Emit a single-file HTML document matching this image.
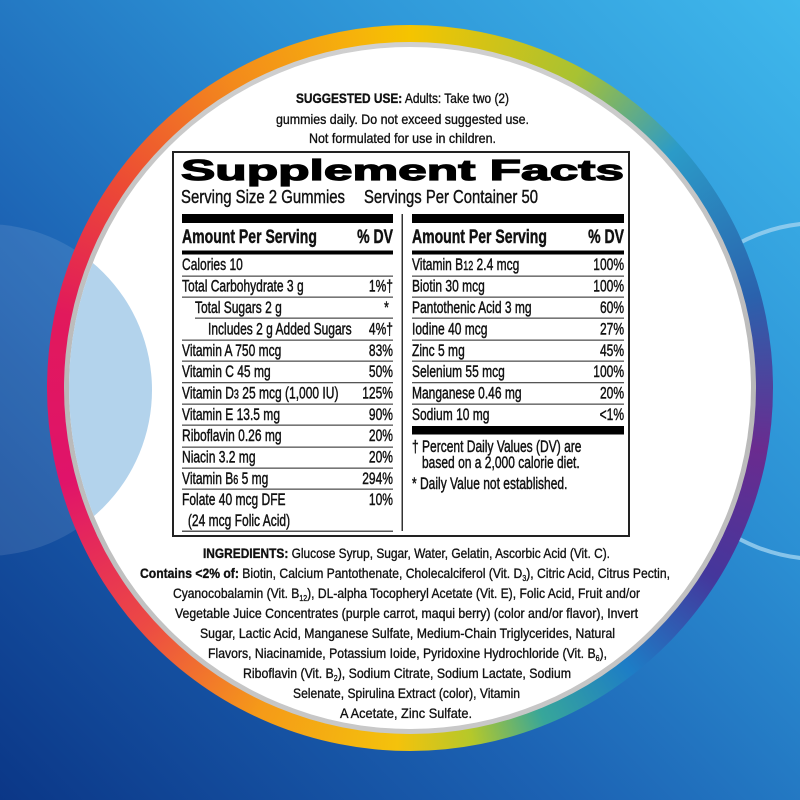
<!DOCTYPE html>
<html><head><meta charset="utf-8"><style>
html,body{margin:0;padding:0;}
body{width:800px;height:800px;position:relative;overflow:hidden;
background:linear-gradient(225deg,#3fb8ec 0%,#2b8fd3 35%,#1c62b3 65%,#0b3787 100%);font-family:"Liberation Sans",sans-serif;}
.abs{position:absolute;}
#ring{left:47px;top:25px;width:726px;height:726px;border-radius:50%;
background:conic-gradient(from 0deg,#f5c400 0deg,#a8c232 28deg,#2b9bc8 48deg,#2a62ad 75deg,#6a2b8f 100deg,#44379c 122deg,#1d7dc6 142deg,#37a69a 158deg,#b5c82a 170deg,#f4c20c 182deg,#f59a18 205deg,#ec4a44 228deg,#e0136a 255deg,#e1195c 282deg,#ec4a35 305deg,#f38a1c 330deg,#f6b40a 352deg,#f5c400 360deg);}
#gray{left:64px;top:42px;width:692px;height:692px;border-radius:50%;background:linear-gradient(180deg,#d0d0d0,#b8b8b8 50%,#c8c8c8);}
#white{left:69px;top:47px;width:682px;height:682px;border-radius:50%;background:#fff;overflow:hidden;}
#pale{left:-249px;top:177px;width:332px;height:332px;border-radius:50%;background:#b3d3ec;}
svg{position:absolute;left:0;top:0;}
</style></head><body>
<div class="abs" style="left:-180px;top:224px;width:332px;height:332px;border-radius:50%;background:rgba(255,255,255,0.10)"></div>
<svg width="800" height="800"><circle cx="819" cy="391" r="168" fill="none" stroke="#9fd2f0" stroke-width="4" opacity="0.8"/></svg>
<div id="ring" class="abs"></div>
<div id="gray" class="abs"></div>
<div id="white" class="abs"><div id="pale" class="abs"></div></div>
<svg width="800" height="800" font-family="'Liberation Sans',sans-serif" fill="#111">
<g stroke="#111" stroke-width="0.35">
<text x="296" y="103" font-size="14" textLength="213" lengthAdjust="spacingAndGlyphs"><tspan font-weight="bold">SUGGESTED USE:</tspan> Adults: Take two (2)</text>
<text x="276" y="124" font-size="14" textLength="253" lengthAdjust="spacingAndGlyphs">gummies daily. Do not exceed suggested use.</text>
<text x="309" y="143" font-size="14" textLength="187" lengthAdjust="spacingAndGlyphs">Not formulated for use in children.</text>
</g>
<rect x="173" y="152" width="456" height="384" fill="none" stroke="#222" stroke-width="2"/>
<text x="181" y="180" font-size="29" font-weight="900" stroke="#000" stroke-width="1.2" fill="#000" textLength="443" lengthAdjust="spacingAndGlyphs">Supplement Facts</text>
<g stroke="#111" stroke-width="0.4">
<text x="181" y="203" font-size="18" textLength="164" lengthAdjust="spacingAndGlyphs">Serving Size 2 Gummies</text>
<text x="364" y="203" font-size="18" textLength="174" lengthAdjust="spacingAndGlyphs">Servings Per Container 50</text>
</g>
<rect x="182" y="214" width="211" height="9" fill="#000"/>
<rect x="412" y="214" width="212" height="9" fill="#000"/>
<rect x="182" y="250.5" width="211" height="4" fill="#000"/>
<rect x="412" y="250.5" width="212" height="4" fill="#000"/>
<rect x="401.5" y="214" width="1.5" height="317" fill="#333"/>
<rect x="412" y="426" width="212" height="8.5" fill="#000"/>
<g fill="#555">
<rect x="182" y="275.5" width="211" height="1.3"/><rect x="182" y="296.5" width="211" height="1.3"/>
<rect x="195" y="317.5" width="198" height="1.3"/><rect x="182" y="339.5" width="211" height="1.3"/>
<rect x="182" y="360.5" width="211" height="1.3"/><rect x="182" y="382" width="211" height="1.3"/>
<rect x="182" y="403.5" width="211" height="1.3"/><rect x="182" y="424.5" width="211" height="1.3"/>
<rect x="182" y="446.5" width="211" height="1.3"/><rect x="182" y="467.5" width="211" height="1.3"/>
<rect x="182" y="488.5" width="211" height="1.3"/><rect x="182" y="530.5" width="211" height="1.5"/>
<rect x="412" y="275.5" width="212" height="1.3"/><rect x="412" y="296.5" width="212" height="1.3"/>
<rect x="412" y="317.5" width="212" height="1.3"/><rect x="412" y="339.5" width="212" height="1.3"/>
<rect x="412" y="360.5" width="212" height="1.3"/><rect x="412" y="382" width="212" height="1.3"/>
<rect x="412" y="403.5" width="212" height="1.3"/>
</g>
<g transform="scale(0.72 1)" font-size="16.7" stroke="#111" stroke-width="0.45">
<text x="252.8" y="243" font-size="19.5" font-weight="bold">Amount Per Serving</text>
<text x="545.8" y="243" font-size="19.5" font-weight="bold" text-anchor="end">% DV</text>
<text x="572.2" y="243" font-size="19.5" font-weight="bold">Amount Per Serving</text>
<text x="866.7" y="243" font-size="19.5" font-weight="bold" text-anchor="end">% DV</text>
<text x="252.8" y="270">Calories 10</text>
<text x="252.8" y="291.5">Total Carbohydrate 3 g</text><text x="545.8" y="291.5" text-anchor="end">1%†</text>
<text x="270.8" y="313">Total Sugars 2 g</text><text x="540" y="313" text-anchor="end">*</text>
<text x="288.9" y="334.5">Includes 2 g Added Sugars</text><text x="545.8" y="334.5" text-anchor="end">4%†</text>
<text x="252.8" y="356">Vitamin A 750 mcg</text><text x="545.8" y="356" text-anchor="end">83%</text>
<text x="252.8" y="377">Vitamin C 45 mg</text><text x="545.8" y="377" text-anchor="end">50%</text>
<text x="252.8" y="398.5">Vitamin D<tspan font-size="12.5">3</tspan> 25 mcg (1,000 IU)</text><text x="545.8" y="398.5" text-anchor="end">125%</text>
<text x="252.8" y="420">Vitamin E 13.5 mg</text><text x="545.8" y="420" text-anchor="end">90%</text>
<text x="252.8" y="441">Riboflavin 0.26 mg</text><text x="545.8" y="441" text-anchor="end">20%</text>
<text x="252.8" y="462.5">Niacin 3.2 mg</text><text x="545.8" y="462.5" text-anchor="end">20%</text>
<text x="252.8" y="484">Vitamin B<tspan font-size="12.5">6</tspan> 5 mg</text><text x="545.8" y="484" text-anchor="end">294%</text>
<text x="252.8" y="505">Folate 40 mcg DFE</text><text x="545.8" y="505" text-anchor="end">10%</text>
<text x="261" y="526">(24 mcg Folic Acid)</text>
<text x="572.2" y="270">Vitamin B<tspan font-size="12.5">12</tspan> 2.4 mcg</text><text x="866.7" y="270" text-anchor="end">100%</text>
<text x="572.2" y="291.5">Biotin 30 mcg</text><text x="866.7" y="291.5" text-anchor="end">100%</text>
<text x="572.2" y="313">Pantothenic Acid 3 mg</text><text x="866.7" y="313" text-anchor="end">60%</text>
<text x="572.2" y="334.5">Iodine 40 mcg</text><text x="866.7" y="334.5" text-anchor="end">27%</text>
<text x="572.2" y="356">Zinc 5 mg</text><text x="866.7" y="356" text-anchor="end">45%</text>
<text x="572.2" y="377">Selenium 55 mcg</text><text x="866.7" y="377" text-anchor="end">100%</text>
<text x="572.2" y="398.5">Manganese 0.46 mg</text><text x="866.7" y="398.5" text-anchor="end">20%</text>
<text x="572.2" y="420">Sodium 10 mg</text><text x="866.7" y="420" text-anchor="end">&lt;1%</text>
<text x="572.2" y="452">† Percent Daily Values (DV) are</text>
<text x="586.1" y="468">based on a 2,000 calorie diet.</text>
<text x="572.2" y="489">* Daily Value not established.</text>
</g>
<g font-size="14" stroke="#111" stroke-width="0.35">
<text x="203" y="558" textLength="407" lengthAdjust="spacingAndGlyphs"><tspan font-weight="bold">INGREDIENTS:</tspan> Glucose Syrup, Sugar, Water, Gelatin, Ascorbic Acid (Vit. C).</text>
<text x="140" y="578" textLength="530" lengthAdjust="spacingAndGlyphs"><tspan font-weight="bold">Contains &lt;2% of:</tspan> Biotin, Calcium Pantothenate, Cholecalciferol (Vit. D<tspan font-size="8" dy="3">3</tspan><tspan dy="-3">), Citric Acid, Citrus Pectin,</tspan></text>
<text x="173" y="598" textLength="467" lengthAdjust="spacingAndGlyphs">Cyanocobalamin (Vit. B<tspan font-size="8" dy="3">12</tspan><tspan dy="-3">), DL-alpha Tocopheryl Acetate (Vit. E), Folic Acid, Fruit and/or</tspan></text>
<text x="175" y="618" textLength="463" lengthAdjust="spacingAndGlyphs">Vegetable Juice Concentrates (purple carrot, maqui berry) (color and/or flavor), Invert</text>
<text x="200" y="638" textLength="415" lengthAdjust="spacingAndGlyphs">Sugar, Lactic Acid, Manganese Sulfate, Medium-Chain Triglycerides, Natural</text>
<text x="208" y="658" textLength="399" lengthAdjust="spacingAndGlyphs">Flavors, Niacinamide, Potassium Ioide, Pyridoxine Hydrochloride (Vit.  B<tspan font-size="8" dy="3">6</tspan><tspan dy="-3">),</tspan></text>
<text x="243" y="678" textLength="328" lengthAdjust="spacingAndGlyphs">Riboflavin (Vit.  B<tspan font-size="8" dy="3">2</tspan><tspan dy="-3">), Sodium Citrate, Sodium Lactate, Sodium</tspan></text>
<text x="293" y="698" textLength="227" lengthAdjust="spacingAndGlyphs">Selenate, Spirulina Extract (color), Vitamin</text>
<text x="340" y="718" textLength="132" lengthAdjust="spacingAndGlyphs">A Acetate, Zinc Sulfate.</text>
</g>
</svg>
</body></html>
